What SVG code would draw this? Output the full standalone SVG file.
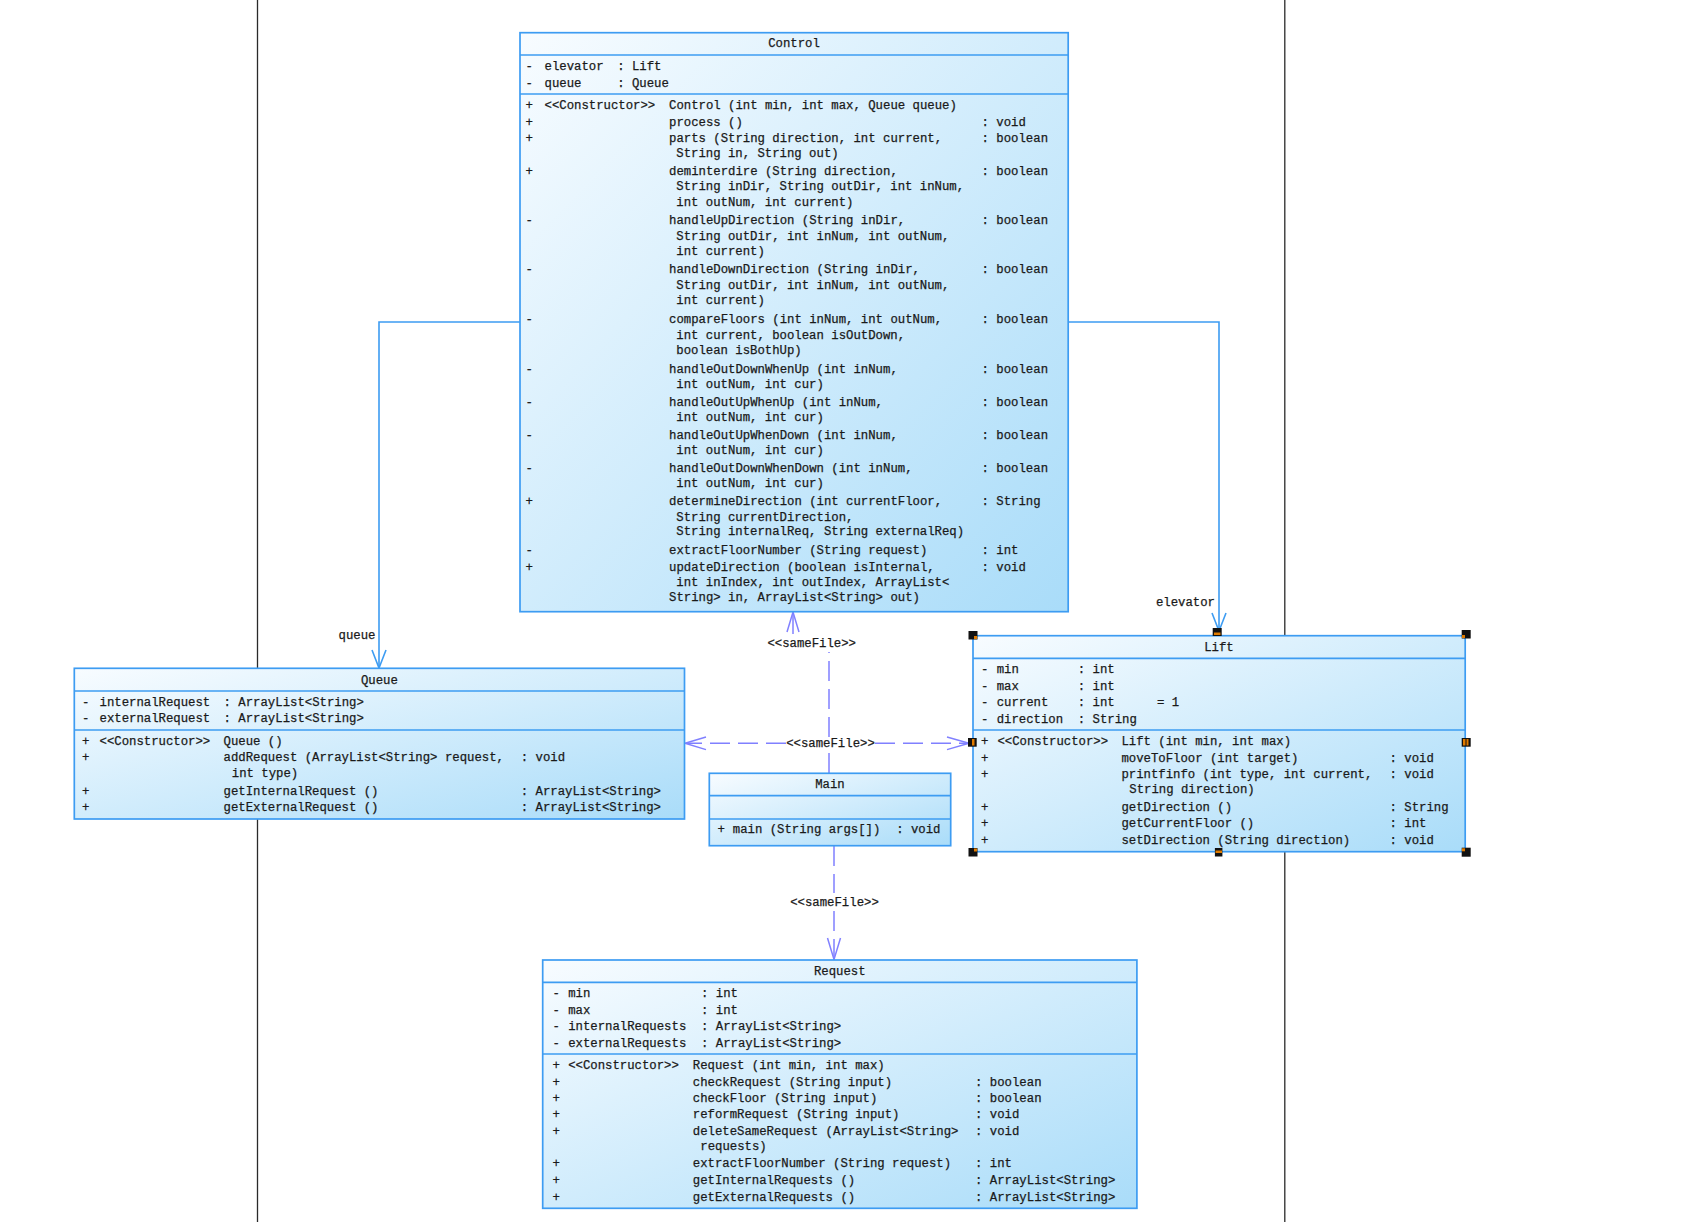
<svg xmlns="http://www.w3.org/2000/svg" width="1681" height="1222" viewBox="0 0 1681 1222">
<defs>
<linearGradient id="g" x1="0" y1="0" x2="1" y2="1">
<stop offset="0" stop-color="#f8fcff"/>
<stop offset="1" stop-color="#a9dcf9"/>
</linearGradient>
<style>
.t{font-family:"Liberation Mono","DejaVu Sans Mono",monospace;font-size:12.3px;fill:#1a1a1a;stroke:#1a1a1a;stroke-width:0.25}
.m{text-anchor:middle}
.e{text-anchor:end}
.box{fill:url(#g);stroke:#3d9cf2;stroke-width:1.7}
.sep{stroke:#3d9cf2;stroke-width:1.7}
.assoc{stroke:#3d9cf2;stroke-width:1.6;fill:none}
.dep{stroke:#8080ff;stroke-width:1.5;stroke-dasharray:20 8;fill:none}
.deph{stroke:#8080ff;stroke-width:1.5;fill:none}
.vl{stroke:#2a2a2a;stroke-width:1.3}
.h{fill:#111}
.ho{fill:#e07b00}
</style>
</defs>
<rect width="1681" height="1222" fill="#fff"/>
<g id="guides">
<line class="vl" x1="257.5" y1="0" x2="257.5" y2="1222"/>
<line class="vl" x1="1284.8" y1="0" x2="1284.8" y2="1222"/>
</g>
<g id="connectors">
<path class="assoc" d="M520,322 H379 V667"/>
<path class="assoc" d="M372,650 L379,668 L386,650"/>
<text class="t e" x="375.5" y="639">queue</text>
<path class="assoc" d="M1068,322 H1219 V630"/>
<path class="assoc" d="M1212,613 L1219,631 L1226,613"/>
<text class="t e" x="1215" y="605.7">elevator</text>
<path class="dep" d="M829,773 V750"/>
<path class="dep" d="M829,737 V652"/>
<path class="dep" d="M793,634 V613"/>
<path class="deph" d="M787,632 L793,612 L799,632"/>
<text class="t m" x="811.7" y="647.3">&lt;&lt;sameFile&gt;&gt;</text>
<path class="dep" d="M786,743.3 H686"/>
<path class="deph" d="M706,737 L685,743.3 L706,749.6"/>
<path class="dep" d="M875,743.3 H968"/>
<path class="deph" d="M947,737 L969,743.3 L947,749.6"/>
<text class="t m" x="830.5" y="747.3">&lt;&lt;sameFile&gt;&gt;</text>
<path class="dep" d="M834,846 V893"/>
<path class="dep" d="M834,911 V958"/>
<path class="deph" d="M827.5,938 L834,959.5 L840.5,938"/>
<text class="t m" x="834.5" y="905.7">&lt;&lt;sameFile&gt;&gt;</text>
</g>
<g id="node-control">
<rect class="box" x="520" y="32.7" width="548.2" height="579"/>
<line class="sep" x1="520" y1="55" x2="1068.2" y2="55"/>
<line class="sep" x1="520" y1="94" x2="1068.2" y2="94"/>
<text class="t m" x="794" y="47">Control</text>
<text class="t" x="525.5" y="70">-</text><text class="t" x="544.5" y="70">elevator</text><text class="t" x="617.2" y="70">: Lift</text>
<text class="t" x="525.5" y="87">-</text><text class="t" x="544.5" y="87">queue</text><text class="t" x="617.2" y="87">: Queue</text>
<text class="t" x="525.5" y="109">+</text><text class="t" x="544.5" y="109">&lt;&lt;Constructor&gt;&gt;</text><text class="t" x="669" y="109">Control (int min, int max, Queue queue)</text>
<text class="t" x="525.5" y="126">+</text><text class="t" x="669" y="126">process ()</text><text class="t" x="981.6" y="126">: void</text>
<text class="t" x="525.5" y="142">+</text><text class="t" x="669" y="142">parts (String direction, int current,</text><text class="t" x="981.6" y="142">: boolean</text>
<text class="t" x="676.3" y="157">String in, String out)</text>
<text class="t" x="525.5" y="175">+</text><text class="t" x="669" y="175">deminterdire (String direction,</text><text class="t" x="981.6" y="175">: boolean</text>
<text class="t" x="676.3" y="190">String inDir, String outDir, int inNum,</text>
<text class="t" x="676.3" y="206">int outNum, int current)</text>
<text class="t" x="525.5" y="224">-</text><text class="t" x="669" y="224">handleUpDirection (String inDir,</text><text class="t" x="981.6" y="224">: boolean</text>
<text class="t" x="676.3" y="240">String outDir, int inNum, int outNum,</text>
<text class="t" x="676.3" y="255">int current)</text>
<text class="t" x="525.5" y="273">-</text><text class="t" x="669" y="273">handleDownDirection (String inDir,</text><text class="t" x="981.6" y="273">: boolean</text>
<text class="t" x="676.3" y="289">String outDir, int inNum, int outNum,</text>
<text class="t" x="676.3" y="304">int current)</text>
<text class="t" x="525.5" y="323">-</text><text class="t" x="669" y="323">compareFloors (int inNum, int outNum,</text><text class="t" x="981.6" y="323">: boolean</text>
<text class="t" x="676.3" y="339">int current, boolean isOutDown,</text>
<text class="t" x="676.3" y="354">boolean isBothUp)</text>
<text class="t" x="525.5" y="373">-</text><text class="t" x="669" y="373">handleOutDownWhenUp (int inNum,</text><text class="t" x="981.6" y="373">: boolean</text>
<text class="t" x="676.3" y="388">int outNum, int cur)</text>
<text class="t" x="525.5" y="406">-</text><text class="t" x="669" y="406">handleOutUpWhenUp (int inNum,</text><text class="t" x="981.6" y="406">: boolean</text>
<text class="t" x="676.3" y="421">int outNum, int cur)</text>
<text class="t" x="525.5" y="439">-</text><text class="t" x="669" y="439">handleOutUpWhenDown (int inNum,</text><text class="t" x="981.6" y="439">: boolean</text>
<text class="t" x="676.3" y="454">int outNum, int cur)</text>
<text class="t" x="525.5" y="472">-</text><text class="t" x="669" y="472">handleOutDownWhenDown (int inNum,</text><text class="t" x="981.6" y="472">: boolean</text>
<text class="t" x="676.3" y="487">int outNum, int cur)</text>
<text class="t" x="525.5" y="505">+</text><text class="t" x="669" y="505">determineDirection (int currentFloor,</text><text class="t" x="981.6" y="505">: String</text>
<text class="t" x="676.3" y="521">String currentDirection,</text>
<text class="t" x="676.3" y="535">String internalReq, String externalReq)</text>
<text class="t" x="525.5" y="554">-</text><text class="t" x="669" y="554">extractFloorNumber (String request)</text><text class="t" x="981.6" y="554">: int</text>
<text class="t" x="525.5" y="571">+</text><text class="t" x="669" y="571">updateDirection (boolean isInternal,</text><text class="t" x="981.6" y="571">: void</text>
<text class="t" x="676.3" y="586">int inIndex, int outIndex, ArrayList&lt;</text>
<text class="t" x="669" y="601">String&gt; in, ArrayList&lt;String&gt; out)</text>
</g>
<g id="node-queue">
<rect class="box" x="74.3" y="668.3" width="610.2" height="150.7"/>
<line class="sep" x1="74.3" y1="691" x2="684.5" y2="691"/>
<line class="sep" x1="74.3" y1="730" x2="684.5" y2="730"/>
<text class="t m" x="379.4" y="684">Queue</text>
<text class="t" x="82" y="705.7">-</text><text class="t" x="99.5" y="705.7">internalRequest</text><text class="t" x="223.6" y="705.7">: ArrayList&lt;String&gt;</text>
<text class="t" x="82" y="722.3">-</text><text class="t" x="99.5" y="722.3">externalRequest</text><text class="t" x="223.6" y="722.3">: ArrayList&lt;String&gt;</text>
<text class="t" x="82" y="745">+</text><text class="t" x="99.5" y="745">&lt;&lt;Constructor&gt;&gt;</text><text class="t" x="223.5" y="745">Queue ()</text>
<text class="t" x="82" y="761.3">+</text><text class="t" x="223.5" y="761.3">addRequest (ArrayList&lt;String&gt; request,</text><text class="t" x="520.8" y="761.3">: void</text>
<text class="t" x="231.8" y="777.3">int type)</text>
<text class="t" x="82" y="794.7">+</text><text class="t" x="223.5" y="794.7">getInternalRequest ()</text><text class="t" x="520.8" y="794.7">: ArrayList&lt;String&gt;</text>
<text class="t" x="82" y="811.3">+</text><text class="t" x="223.5" y="811.3">getExternalRequest ()</text><text class="t" x="520.8" y="811.3">: ArrayList&lt;String&gt;</text>
</g>
<g id="node-lift">
<rect class="box" x="973" y="635.7" width="492.2" height="216"/>
<line class="sep" x1="973" y1="658.3" x2="1465.2" y2="658.3"/>
<line class="sep" x1="973" y1="730" x2="1465.2" y2="730"/>
<text class="t m" x="1219" y="650.7">Lift</text>
<text class="t" x="981" y="673.3">-</text><text class="t" x="996.7" y="673.3">min</text><text class="t" x="1077.8" y="673.3">: int</text>
<text class="t" x="981" y="690">-</text><text class="t" x="996.7" y="690">max</text><text class="t" x="1077.8" y="690">: int</text>
<text class="t" x="981" y="706.3">-</text><text class="t" x="996.7" y="706.3">current</text><text class="t" x="1077.8" y="706.3">: int</text><text class="t" x="1157" y="706.3">= 1</text>
<text class="t" x="981" y="722.7">-</text><text class="t" x="996.7" y="722.7">direction</text><text class="t" x="1077.8" y="722.7">: String</text>
<text class="t" x="981" y="745">+</text><text class="t" x="997.4" y="745">&lt;&lt;Constructor&gt;&gt;</text><text class="t" x="1121.4" y="745">Lift (int min, int max)</text>
<text class="t" x="981" y="761.7">+</text><text class="t" x="1121.4" y="761.7">moveToFloor (int target)</text><text class="t" x="1389.5" y="761.7">: void</text>
<text class="t" x="981" y="778.3">+</text><text class="t" x="1121.4" y="778.3">printfinfo (int type, int current,</text><text class="t" x="1389.5" y="778.3">: void</text>
<text class="t" x="1129.3" y="793.3">String direction)</text>
<text class="t" x="981" y="810.7">+</text><text class="t" x="1121.4" y="810.7">getDirection ()</text><text class="t" x="1389.5" y="810.7">: String</text>
<text class="t" x="981" y="827.3">+</text><text class="t" x="1121.4" y="827.3">getCurrentFloor ()</text><text class="t" x="1389.5" y="827.3">: int</text>
<text class="t" x="981" y="844">+</text><text class="t" x="1121.4" y="844">setDirection (String direction)</text><text class="t" x="1389.5" y="844">: void</text>
<g id="lift-handles">
<rect class="h" x="968.5" y="631" width="9" height="8.5"/><rect class="ho" x="974" y="636" width="3" height="3"/>
<rect class="h" x="1212.7" y="628" width="9" height="8"/><rect class="ho" x="1214" y="632.5" width="6.5" height="2.5"/>
<rect class="h" x="1461.7" y="630" width="9" height="8.5"/><rect class="ho" x="1462" y="635" width="3" height="3"/>
<rect class="h" x="968" y="738" width="8.7" height="8.7"/><rect class="ho" x="972" y="739" width="2.5" height="6.5"/>
<rect class="h" x="1461.7" y="738" width="9" height="8.7"/><rect class="ho" x="1463" y="739" width="2.5" height="6.5"/><rect class="ho" x="1466.5" y="739" width="2" height="6.5"/>
<rect class="h" x="968.5" y="848" width="9" height="8.5"/><rect class="ho" x="974" y="848.5" width="3" height="3"/>
<rect class="h" x="1214.9" y="848" width="7.5" height="8.5"/><rect class="ho" x="1215.5" y="850.5" width="6.5" height="2.5"/>
<rect class="h" x="1461.7" y="847.7" width="9" height="9"/><rect class="ho" x="1462" y="848.3" width="3" height="3"/>
</g>
</g>
<g id="node-main">
<rect class="box" x="709.3" y="773.3" width="241.4" height="72.4"/>
<line class="sep" x1="709.3" y1="795.7" x2="950.7" y2="795.7"/>
<line class="sep" x1="709.3" y1="819" x2="950.7" y2="819"/>
<text class="t m" x="830" y="788">Main</text>
<text class="t" x="717.5" y="833.3">+</text><text class="t" x="732.8" y="833.3">main (String args[])</text><text class="t" x="896.2" y="833.3">: void</text>
</g>
<g id="node-request">
<rect class="box" x="542.7" y="960" width="594.2" height="248.3"/>
<line class="sep" x1="542.7" y1="982.3" x2="1136.9" y2="982.3"/>
<line class="sep" x1="542.7" y1="1054" x2="1136.9" y2="1054"/>
<text class="t m" x="839.8" y="974.7">Request</text>
<text class="t" x="552.5" y="997.3">-</text><text class="t" x="568.2" y="997.3">min</text><text class="t" x="701" y="997.3">: int</text>
<text class="t" x="552.5" y="1014">-</text><text class="t" x="568.2" y="1014">max</text><text class="t" x="701" y="1014">: int</text>
<text class="t" x="552.5" y="1030">-</text><text class="t" x="568.2" y="1030">internalRequests</text><text class="t" x="701" y="1030">: ArrayList&lt;String&gt;</text>
<text class="t" x="552.5" y="1046.7">-</text><text class="t" x="568.2" y="1046.7">externalRequests</text><text class="t" x="701" y="1046.7">: ArrayList&lt;String&gt;</text>
<text class="t" x="552.5" y="1069">+</text><text class="t" x="568.2" y="1069">&lt;&lt;Constructor&gt;&gt;</text><text class="t" x="692.8" y="1069">Request (int min, int max)</text>
<text class="t" x="552.5" y="1085.7">+</text><text class="t" x="692.8" y="1085.7">checkRequest (String input)</text><text class="t" x="975.1" y="1085.7">: boolean</text>
<text class="t" x="552.5" y="1101.7">+</text><text class="t" x="692.8" y="1101.7">checkFloor (String input)</text><text class="t" x="975.1" y="1101.7">: boolean</text>
<text class="t" x="552.5" y="1118.3">+</text><text class="t" x="692.8" y="1118.3">reformRequest (String input)</text><text class="t" x="975.1" y="1118.3">: void</text>
<text class="t" x="552.5" y="1135">+</text><text class="t" x="692.8" y="1135">deleteSameRequest (ArrayList&lt;String&gt;</text><text class="t" x="975.1" y="1135">: void</text>
<text class="t" x="700.3" y="1150">requests)</text>
<text class="t" x="552.5" y="1167.3">+</text><text class="t" x="692.8" y="1167.3">extractFloorNumber (String request)</text><text class="t" x="975.1" y="1167.3">: int</text>
<text class="t" x="552.5" y="1184">+</text><text class="t" x="692.8" y="1184">getInternalRequests ()</text><text class="t" x="975.1" y="1184">: ArrayList&lt;String&gt;</text>
<text class="t" x="552.5" y="1200.7">+</text><text class="t" x="692.8" y="1200.7">getExternalRequests ()</text><text class="t" x="975.1" y="1200.7">: ArrayList&lt;String&gt;</text>
</g>
</svg>
